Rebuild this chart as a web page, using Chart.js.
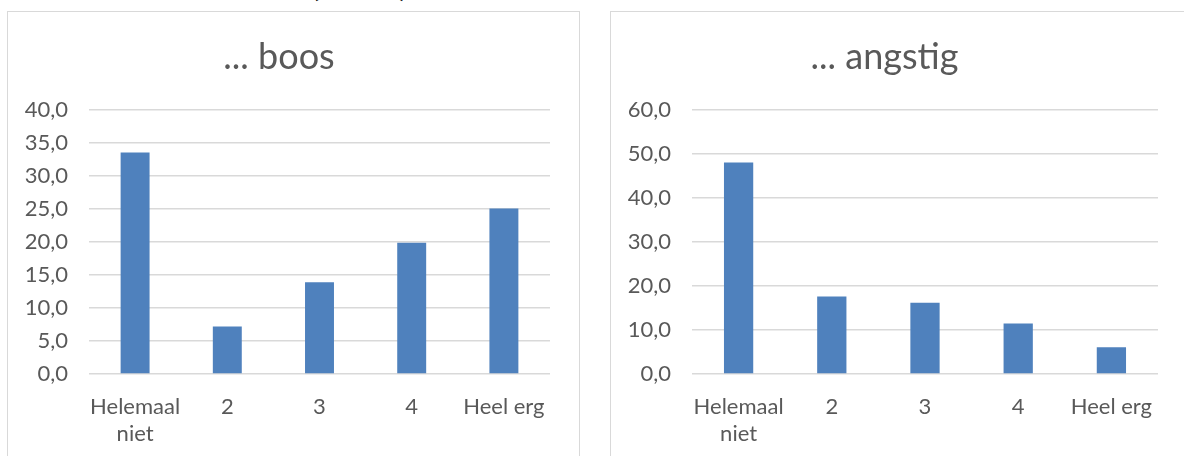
<!DOCTYPE html>
<html>
<head>
<meta charset="utf-8">
<script src="https://cdn.jsdelivr.net/npm/chart.js@4/dist/chart.umd.min.js"></script>
<style>
  html, body { margin: 0; padding: 0; background: #ffffff; width: 1184px; height: 456px; overflow: hidden; position: relative; font-family: Lato, "Open Sans", sans-serif; }
  .box { position: absolute; border: 1px solid #d9d9d9; background: #fff; box-sizing: border-box; }
  #boxL { left: 7px; top: 11px; width: 573px; height: 470px; }
  #boxR { left: 610px; top: 11px; width: 600px; height: 470px; }
  canvas { position: absolute; }
  #cL { left: 8px; top: 12px; }
  #cR { left: 611px; top: 12px; }
  #head { position: absolute; left: 312px; top: -29px; font: bold 26px Lato, sans-serif; color: #000; white-space: nowrap; }
  #head .mid { display: inline-block; width: 80px; text-align: center; }
</style>
</head>
<body>
<div id="head">(<span class="mid">…</span>)</div>
<div class="box" id="boxL"></div>
<div class="box" id="boxR"></div>
<canvas id="cL" width="571" height="445"></canvas>
<canvas id="cR" width="573" height="445"></canvas>
<script>
const categories = [["Helemaal", "niet"], "2", "3", "4", "Heel erg"];
const boosValues = [33.6, 7.2, 13.9, 19.9, 25.1];
const angstigValues = [48.1, 17.6, 16.2, 11.5, 6.1];
const boosTitle = "... boos";
const angstigTitle = "... angstig";
const boosTicks = { max: 40, step: 5 };
const angstigTicks = { max: 60, step: 10 };

const TXT = "#595959";
const GRID = "#d9d9d9";
const BAR = "#4f81bd";
const FONT = "Lato, 'Open Sans', sans-serif";

function makeChart(id, title, values, tk, padRight) {
  return new Chart(document.getElementById(id), {
    type: "bar",
    data: {
      labels: categories,
      datasets: [{
        data: values,
        backgroundColor: BAR,
        borderWidth: 0,
        categoryPercentage: 1.0,
        barPercentage: 0.314
      }]
    },
    options: {
      responsive: false,
      animation: false,
      devicePixelRatio: 1,
      layout: { padding: { left: 0, right: padRight, top: 0, bottom: 0 } },
      plugins: {
        legend: { display: false },
        tooltip: { enabled: false },
        title: {
          display: true,
          text: title,
          color: TXT,
          font: { family: FONT, size: 36, weight: "normal", lineHeight: 1.2 },
          padding: { top: 24, bottom: 31 }
        }
      },
      scales: {
        x: {
          grid: { display: false, drawTicks: false },
          border: { display: false },
          ticks: {
            color: TXT,
            font: { family: FONT, size: 22, lineHeight: 1.2 },
            padding: 20,
            maxRotation: 0,
            autoSkip: false
          },
          afterFit: (s) => { s.height = 83; }
        },
        y: {
          min: 0,
          max: tk.max,
          grid: { color: GRID, lineWidth: 1.5, drawTicks: false },
          border: { display: false },
          ticks: {
            stepSize: tk.step,
            color: TXT,
            font: { family: FONT, size: 22 },
            padding: 21,
            callback: (v) => v.toFixed(1).replace(".", ",")
          },
          afterFit: (s) => { s.width = 81; }
        }
      }
    }
  });
}

makeChart("cL", boosTitle, boosValues, boosTicks, 29);
makeChart("cR", angstigTitle, angstigValues, angstigTicks, 26);
</script>
</body>
</html>
